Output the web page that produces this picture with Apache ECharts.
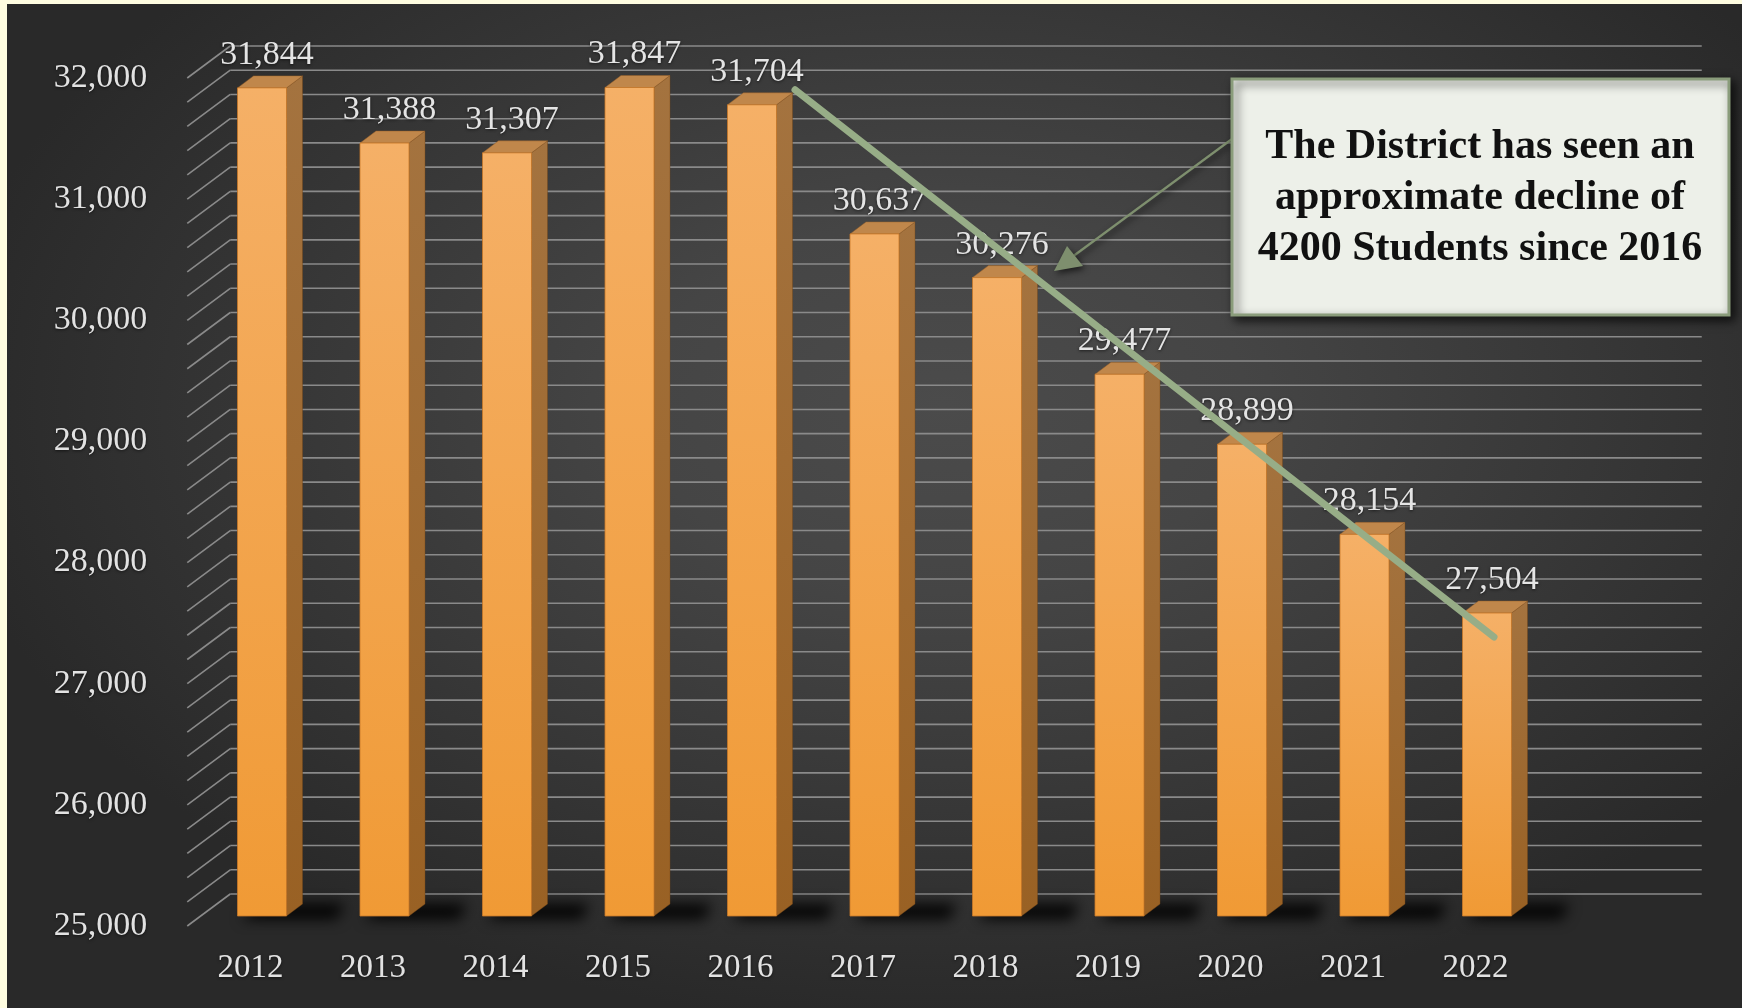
<!DOCTYPE html>
<html>
<head>
<meta charset="utf-8">
<script src="https://cdn.jsdelivr.net/npm/echarts@6/dist/echarts.min.js"></script>
<style>
html,body{margin:0;padding:0;width:1742px;height:1008px;overflow:hidden;background:#FFFDE1;}
#panel{position:absolute;left:7px;top:4px;width:1735px;height:1004px;
  background:radial-gradient(ellipse 58% 62% at 54% 40%, #4b4b4b 0%, #454545 30%, #373737 65%, #292929 100%);}
#chart{position:absolute;left:0;top:0;width:1742px;height:1008px;}
</style>
</head>
<body>
<div id="panel"></div>
<div id="chart"></div>
<script>
// ---- data ----
const years = ['2012','2013','2014','2015','2016','2017','2018','2019','2020','2021','2022'];
const students = [31844, 31388, 31307, 31847, 31704, 30637, 30276, 29477, 28899, 28154, 27504];
const axisMin = 25000;
const axisMax = 32000;
const labelStep = 1000;
const gridStep = 200;
const trendStart = [4, 31704];   // 2016
const trendEnd = [10, 27504];    // 2022
const calloutLines = ['The District has seen an', 'approximate decline of', '4200 Students since 2016'];

// ---- derived ----
const wallTicks = [];
for (let v = axisMin; v <= axisMax; v += gridStep) wallTicks.push([0, v]);
const barData = students.map((v, i) => [i, v]);
const trendData = [[trendStart[0], trendStart[1], trendEnd[0], trendEnd[1]]];

const FONT = '"Liberation Serif", "Times New Roman", serif';
const fmt = v => Number(v).toLocaleString('en-US');
const chart = echarts.init(document.getElementById('chart'), null, {renderer: 'canvas'});

function renderWall(params, api) {
  const cs = params.coordSys;
  const yf = api.coord([0, api.value(1)])[1];
  const xf = cs.x - 2, xb = cs.x + 41, yb = yf - 32, xr = cs.x + cs.width + 165;
  const st = {stroke: '#8a8a8a', lineWidth: 1.6};
  return {type: 'group', children: [
    {type: 'line', shape: {x1: xf, y1: yf, x2: xb, y2: yb}, style: st},
    {type: 'line', shape: {x1: xb, y1: yb, x2: xr, y2: yb}, style: st}
  ]};
}

const SHIFT = 4000; // draw the floor shadow off-screen and keep only its blurred shadow
function renderBar(params, api) {
  const i = api.value(0), v = api.value(1);
  const p = api.coord([i, v]);
  const b = api.coord([i, axisMin]);
  const hw = 24.5, dx = 16, dy = -12;
  const xl = p[0] - hw, xr = p[0] + hw, yt = p[1], yb = b[1];
  return {type: 'group', children: [
    {type: 'polygon',
     shape: {points: [[xl + 4 - SHIFT, yb + 3], [xr + dx + 34 - SHIFT, yb + 3],
                      [xr + dx + 42 - SHIFT, yb + dy], [xl + dx + 4 - SHIFT, yb + dy]]},
     style: {fill: 'rgba(0,0,0,1)', shadowBlur: 14, shadowColor: 'rgba(0,0,0,0.95)',
             shadowOffsetX: SHIFT, shadowOffsetY: 0}},
    {type: 'polygon',
     shape: {points: [[xr, yt], [xr + dx, yt + dy], [xr + dx, yb + dy], [xr, yb]]},
     style: {fill: new echarts.graphic.LinearGradient(0, 0, 0, 1, [
       {offset: 0, color: '#A4733F'}, {offset: 1, color: '#996124'}]),
       stroke: 'rgba(120,70,20,0.5)', lineWidth: 0.8}},
    {type: 'polygon',
     shape: {points: [[xl, yt], [xl + dx, yt + dy], [xr + dx, yt + dy], [xr, yt]]},
     style: {fill: '#C0874B', stroke: 'rgba(150,95,40,0.6)', lineWidth: 0.8}},
    {type: 'rect',
     shape: {x: xl, y: yt, width: 2 * hw, height: yb - yt},
     style: {fill: new echarts.graphic.LinearGradient(0, 0, 0, 1, [
       {offset: 0, color: '#F5B067'}, {offset: 1, color: '#F09A35'}]),
       stroke: 'rgba(200,120,40,0.8)', lineWidth: 1}},
    {type: 'text', x: p[0] + 5, y: yt - 33,
     style: {text: fmt(v), fill: '#e4e4e4', fontSize: 34, fontFamily: FONT,
       align: 'center', verticalAlign: 'middle', textAlign: 'center', textVerticalAlign: 'middle',
       textShadowColor: 'rgba(0,0,0,0.6)', textShadowBlur: 3, textShadowOffsetY: 1}}
  ]};
}

function renderTrend(params, api) {
  const a = api.coord([api.value(0), api.value(1)]);
  const c = api.coord([api.value(2), api.value(3)]);
  return {type: 'line',
    shape: {x1: a[0] + 43, y1: a[1] - 15, x2: c[0] + 7, y2: c[1] + 24},
    style: {stroke: '#97AD87', lineWidth: 7, lineCap: 'round'}};
}

// arrow geometry (annotation)
const arrowStart = [1232, 139], arrowTip = [1054, 271];

const option = {
  animation: false,
  backgroundColor: 'transparent',
  grid: [
    {left: 200.75, width: 1347.5, top: 69, height: 847},
    {left: 189.25, width: 1347.5, top: 78, height: 848}
  ],
  xAxis: [
    {gridIndex: 0, type: 'category', data: years, show: false},
    {gridIndex: 1, type: 'category', data: years,
     axisLine: {show: false}, axisTick: {show: false}, splitLine: {show: false},
     axisLabel: {color: '#e2e2e2', fontSize: 33, fontFamily: FONT, margin: 26,
       textShadowColor: 'rgba(0,0,0,0.6)', textShadowBlur: 3, textShadowOffsetY: 1}}
  ],
  yAxis: [
    {gridIndex: 0, type: 'value', min: axisMin, max: axisMax, interval: labelStep, show: false},
    {gridIndex: 1, type: 'value', min: axisMin, max: axisMax, interval: labelStep,
     axisLine: {show: false}, axisTick: {show: false}, splitLine: {show: false},
     axisLabel: {color: '#e2e2e2', fontSize: 34, fontFamily: FONT, margin: 42, formatter: fmt,
       textShadowColor: 'rgba(0,0,0,0.6)', textShadowBlur: 3, textShadowOffsetY: 1}}
  ],
  series: [
    {type: 'custom', name: 'walls', xAxisIndex: 1, yAxisIndex: 1, data: wallTicks,
     renderItem: renderWall, silent: true, z: 1, clip: false},
    {type: 'custom', name: 'Students', xAxisIndex: 0, yAxisIndex: 0, data: barData,
     renderItem: renderBar, z: 2, clip: false},
    {type: 'custom', name: 'trend', xAxisIndex: 0, yAxisIndex: 0, data: trendData,
     dimensions: ['x1', 'y1', 'x2', 'y2'], encode: {x: [0, 2], y: [1, 3]},
     renderItem: renderTrend, z: 3, clip: false}
  ],
  graphic: [
    {type: 'line', z: 100,
     shape: {x1: arrowStart[0], y1: arrowStart[1], x2: 1068, y2: 260},
     style: {stroke: '#7E8F6E', lineWidth: 2.2, shadowBlur: 6, shadowColor: 'rgba(0,0,0,0.6)', shadowOffsetX: 2, shadowOffsetY: 3}},
    {type: 'polygon', z: 100,
     shape: {points: [arrowTip, [1067, 246], [1083, 266]]},
     style: {fill: '#7E8F6E', shadowBlur: 6, shadowColor: 'rgba(0,0,0,0.6)', shadowOffsetX: 2, shadowOffsetY: 3}},
    {type: 'rect', z: 101,
     shape: {x: 1232, y: 79, width: 497, height: 236},
     style: {fill: '#EDF0E9', stroke: '#8A9C7B', lineWidth: 3,
       shadowBlur: 10, shadowColor: 'rgba(0,0,0,0.7)', shadowOffsetX: 4, shadowOffsetY: 4}},
    {type: 'text', z: 102, x: 1480, y: 198,
     style: {text: calloutLines.join('\n'), fill: '#111', fontSize: 42, fontWeight: 'bold', fontFamily: FONT,
       lineHeight: 51, align: 'center', verticalAlign: 'middle', textAlign: 'center', textVerticalAlign: 'middle'}}
  ]
};
chart.setOption(option);
</script>
</body>
</html>
